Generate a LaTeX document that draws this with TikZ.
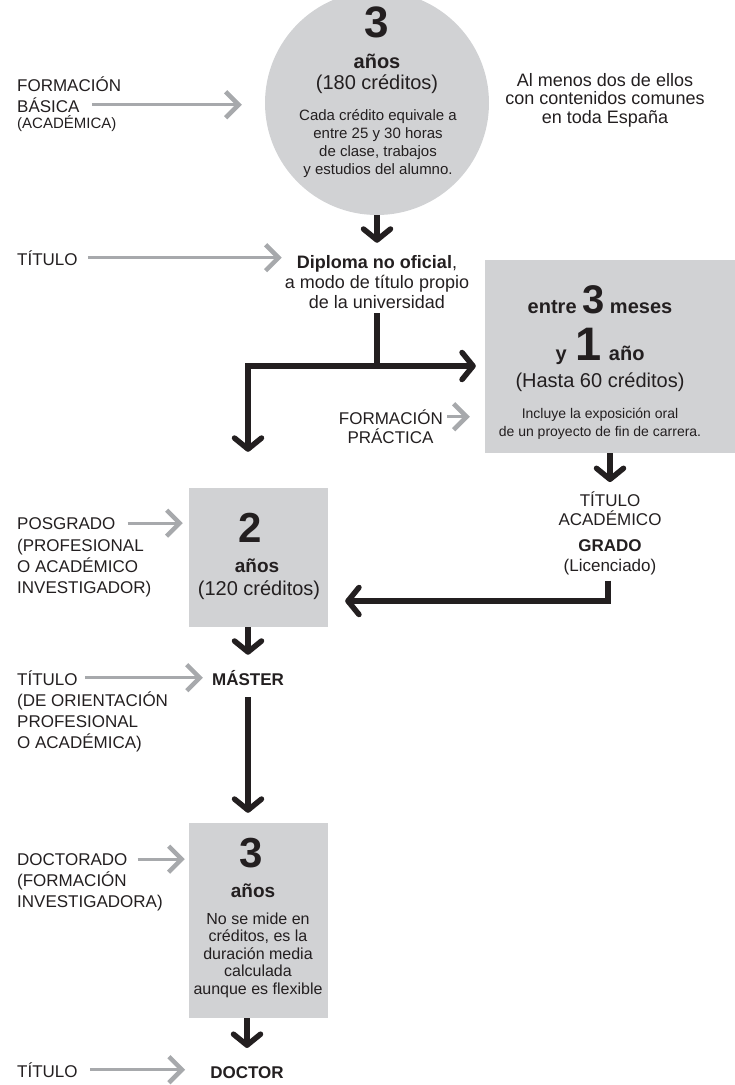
\documentclass[tikz,border=0pt]{standalone}
\usepackage{fontspec}
\setmainfont{Liberation Sans}
\usetikzlibrary{arrows.meta, positioning}

\definecolor{boxgray}{HTML}{D1D2D4}
\definecolor{arrgray}{HTML}{A7A9AC}
\definecolor{ink}{HTML}{231F20}

\newcommand{\fsz}[2]{\fontsize{#1}{#2}\selectfont}

\begin{document}
\begin{tikzpicture}[x=1pt, y=-1pt,
	every node/.style={text=ink, inner sep=0pt},
	lbl/.style={anchor=base west, font=\fsz{17}{21}, align=left},
	lblsub/.style={anchor=base west, font=\fsz{15}{18}, align=left},
	ctext/.style={anchor=base, align=center},
	bignum/.style={anchor=base, font=\fsz{42}{42}\bfseries},
	stage/.style={fill=boxgray, draw=none, inner sep=0pt},
	blkbarb/.tip={Straight Barb[length=11pt, width=27pt, round]},
	graybarb/.tip={Straight Barb[length=13pt, width=26pt, line width=4.5pt]},
	grayarr/.style={draw=arrgray, line width=2.8pt, -graybarb},
	blkarr/.style={draw=ink, line width=5.5pt, -blkbarb},
	blkline/.style={draw=ink, line width=5.5pt},
	]
	
	\useasboundingbox (0,0) rectangle (735,1085);
	\clip (0,0) rectangle (735,1085);
	
	% first stage (circle)
	\node[circle, fill=boxgray, minimum size=224pt] (circ) at (377,103) {};
	\node[bignum, font=\fsz{44}{44}\bfseries] (c3) at (377,37) {3};
	\node[ctext, font=\fsz{20}{22}\bfseries] (canos) at (377,68) {años};
	\node[ctext, font=\fsz{20}{22}] (ccred) at (377,89) {(180 créditos)};
	\node[ctext, font=\fsz{15}{18}] (cnote) at (378,174) {Cada crédito equivale a\\entre 25 y 30 horas\\de clase, trabajos\\y estudios del alumno.};
	\node[ctext, font=\fsz{18}{18.5}] (comun) at (605,123) {Al menos dos de ellos\\con contenidos comunes\\en toda España};
	
	\node[lbl] (fb1) at (17,91) {FORMACIÓN};
	\node[lbl] (fb2) at (17,112) {BÁSICA};
	\node[lblsub] (fb3) at (17,128) {(ACADÉMICA)};
	
	% diploma
	\node[lbl] (t1) at (17,265) {TÍTULO};
	\node[ctext, font=\fsz{18}{20}] (dipl) at (377,308) {\textbf{Diploma no oficial},\\a modo de título propio\\de la universidad};
	\coordinate (split) at (377,366);
	\coordinate (turnL) at (248,366);
	
	% practice stage
	\node[stage, minimum width=255pt, minimum height=193pt] (pract) at (612.5,356.5) {};
	\node[ctext, font=\fsz{20}{20}\bfseries] (pr1) at (600,313) {entre {\fsz{40}{40}3} meses};
	\node[ctext, font=\fsz{20}{20}\bfseries] (pr2) at (600,360) {y\hspace{3pt} {\fsz{47}{47}1}\hspace{2pt} año};
	\node[ctext, font=\fsz{20}{22}] (pr3) at (600,387) {(Hasta 60 créditos)};
	\node[ctext, font=\fsz{14}{18}] (pr4) at (600,436) {Incluye la exposición oral\\de un proyecto de fin de carrera.};
	
	\node[lbl, anchor=base east] (fp1) at (443,424) {FORMACIÓN};
	\node[lbl, anchor=base] (fp2) at (390.5,443) {PRÁCTICA};
	
	\node[ctext, font=\fsz{17}{19.5}] (tacad) at (610,525.5) {TÍTULO\\ACADÉMICO};
	\node[ctext, font=\fsz{17}{19}\bfseries] (grado) at (610,551) {GRADO};
	\node[ctext, font=\fsz{17}{19}] (lic) at (610,571) {(Licenciado)};
	\coordinate (turnG) at (608,601);
	
	% master stage
	\node[stage, minimum width=139pt, minimum height=139pt] (box2) at (258.5,557.5) {};
	\node[bignum] (b2n) at (250,542) {2};
	\node[ctext, font=\fsz{19}{22}\bfseries] (b2a) at (257,572) {años};
	\node[ctext, font=\fsz{20}{22}] (b2c) at (259,595) {(120 créditos)};
	
	\node[lbl] (pos1) at (17,529) {POSGRADO};
	\node[lbl] (pos2) at (17,593) {(PROFESIONAL\\O ACADÉMICO\\INVESTIGADOR)};
	
	\node[ctext, font=\fsz{17}{20}\bfseries] (master) at (248,685) {MÁSTER};
	\node[lbl] (t2) at (17,685) {TÍTULO};
	\node[lbl] (t2sub) at (17,748) {(DE ORIENTACIÓN\\PROFESIONAL\\O ACADÉMICA)};
	
	% doctorate stage
	\node[stage, minimum width=139pt, minimum height=195pt] (box3) at (258.5,920.5) {};
	\node[bignum] (b3n) at (251,867) {3};
	\node[ctext, font=\fsz{19}{22}\bfseries] (b3a) at (253,897) {años};
	\node[ctext, font=\fsz{16}{17.5}] (b3note) at (258,994) {No se mide en\\créditos, es la\\duración media\\calculada\\aunque es flexible};
	
	\node[lbl] (doc1) at (17,865) {DOCTORADO};
	\node[lbl] (doc2) at (17,907) {(FORMACIÓN\\INVESTIGADORA)};
	
	\node[ctext, font=\fsz{17}{20}\bfseries] (doctor) at (247,1078) {DOCTOR};
	\node[lbl] (t3) at (17,1077) {TÍTULO};
	
	% gray arrows
	\draw[grayarr] ([xshift=12pt]fb2.east) -- ([xshift=-23pt]fb2.east -| circ.west);
	\draw[grayarr] ([xshift=10pt]t1.east) -- ([xshift=-3pt]t1.east -| dipl.west);
	\draw[grayarr] ([xshift=4pt]fp1.east) -- ([xshift=-15pt]fp1.east -| pract.west);
	\draw[grayarr] ([xshift=12pt]pos1.east) -- ([xshift=-6pt]pos1.east -| box2.west);
	\draw[grayarr] ([xshift=7pt]t2.east) -- ([xshift=-9pt]t2.east -| master.west);
	\draw[grayarr] ([xshift=10pt]doc1.east) -- ([xshift=-4pt]doc1.east -| box3.west);
	\draw[grayarr] ([xshift=12pt]t3.east) -- ([xshift=-25pt]t3.east -| doctor.west);
	
	% black arrows
	\draw[blkarr, shorten >=12pt] (circ.south) -- (circ.south |- dipl.north);
	\draw[blkline, shorten <=5pt] (dipl.south) -- (split);
	\draw[blkline, blkbarb-blkbarb, shorten <=9pt, shorten >=36pt] (split -| pract.west) -- (turnL) -- (turnL |- box2.north);
	\draw[blkarr, shorten >=9pt] (tacad.north |- pract.south) -- (tacad.north);
	\draw[blkarr, shorten <=6pt, shorten >=17pt] (lic.south -| turnG) -- (turnG) -- (turnG -| box2.east);
	\draw[blkarr, shorten >=15pt] (master.north |- box2.south) -- (master.north);
	\draw[blkarr, shorten <=12pt, shorten >=10pt] (master.south) -- (master.south |- box3.north);
	\draw[blkarr, shorten >=18pt] (doctor.north |- box3.south) -- (doctor.north);
	
\end{tikzpicture}
\end{document}
